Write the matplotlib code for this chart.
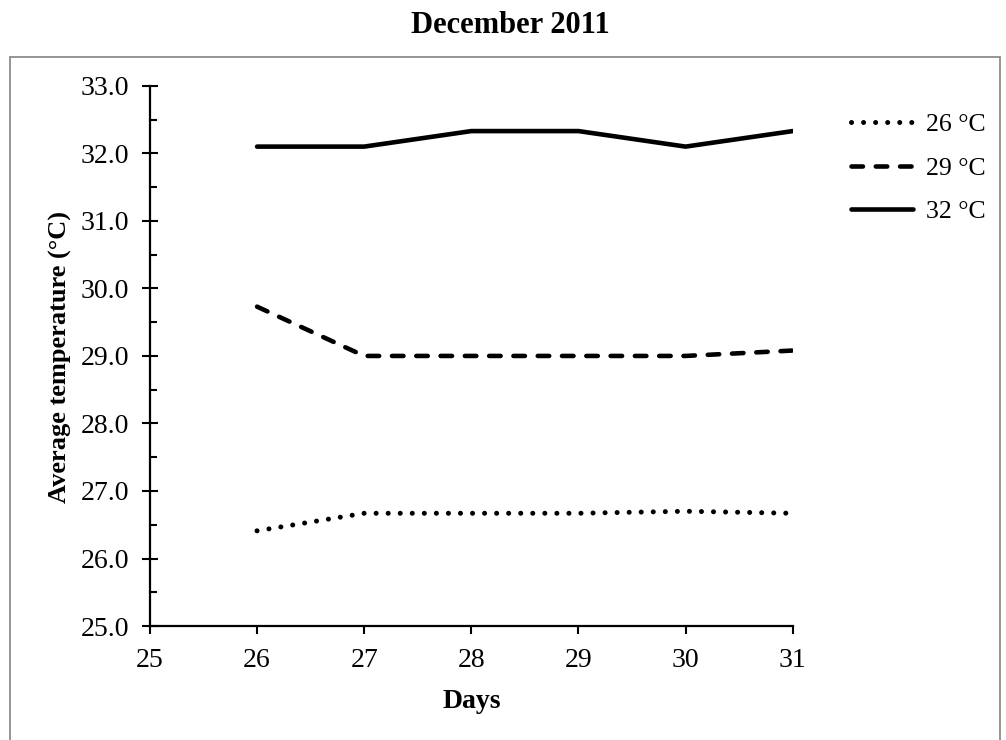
# Average temperature per day for the three incubation set-points
import matplotlib
matplotlib.use("Agg")
import matplotlib.pyplot as plt
from matplotlib.patches import Rectangle
from matplotlib.ticker import MultipleLocator, FormatStrFormatter

# ===============================
# Data
# ===============================
days = [26, 27, 28, 29, 30, 31]
temp_26 = [26.41, 26.67, 26.67, 26.67, 26.70, 26.67]
temp_29 = [29.73, 29.00, 29.00, 29.00, 29.00, 29.08]
temp_32 = [32.10, 32.10, 32.33, 32.33, 32.10, 32.33]
series_labels = ["26 °C", "29 °C", "32 °C"]

plt.rcParams["font.family"] = ["Liberation Serif", "DejaVu Serif"]
plt.rcParams["font.size"] = 20

fig = plt.figure(figsize=(10.06, 7.40), dpi=100)
ax = fig.add_axes([0.149, 0.154, 0.639, 0.730])

lw = 3.3
ax.plot(days, temp_26, color="black", lw=3.6, dashes=(0.01, 2.4),
        dash_capstyle="round", label=series_labels[0])
ax.plot(days, temp_29, color="black", lw=lw, dashes=(2.5, 2.8),
        dash_capstyle="round", label=series_labels[1])
ax.plot(days, temp_32, color="black", lw=lw, solid_capstyle="round",
        label=series_labels[2])

# ===============================
# Axes styling
# ===============================
ax.set_xlim(25, 31)
ax.set_ylim(25, 33)
ax.xaxis.set_major_locator(MultipleLocator(1))
ax.yaxis.set_major_locator(MultipleLocator(1))
ax.yaxis.set_minor_locator(MultipleLocator(0.5))
ax.yaxis.set_major_formatter(FormatStrFormatter("%.1f"))

for side in ["top", "right"]:
    ax.spines[side].set_visible(False)
for side in ["left", "bottom"]:
    ax.spines[side].set_linewidth(1.6)

ax.tick_params(axis="y", which="major", direction="inout", length=12,
               width=1.5, pad=9, labelsize=20)
ax.tick_params(axis="y", which="minor", direction="in", length=5, width=1.5)
ax.tick_params(axis="x", which="major", direction="out", length=6,
               width=1.5, pad=10, labelsize=20)

fig.text(0.0596, 0.5176, "Average temperature (°C)", rotation=90,
         ha="center", va="center", fontsize=19, fontweight="bold")
fig.text(0.469, 0.0432, "Days", ha="center", va="baseline",
         fontsize=20, fontweight="bold")
fig.text(0.507, 0.955, "December 2011", ha="center", va="baseline",
         fontsize=22, fontweight="bold")

ax.legend(loc="upper left", bbox_to_anchor=(0.823, 0.878),
          bbox_transform=fig.transFigure, frameon=False, fontsize=18.5,
          handlelength=2.4, handletextpad=0.5, labelspacing=0.8)

# chart border
fig.patches.append(Rectangle((10 / 1006, -0.01), 990 / 1006, (740 - 57) / 740 + 0.01,
                             transform=fig.transFigure, fill=False,
                             edgecolor="#8c8c8c", lw=1.3))

fig.savefig("out.png", dpi=100)
